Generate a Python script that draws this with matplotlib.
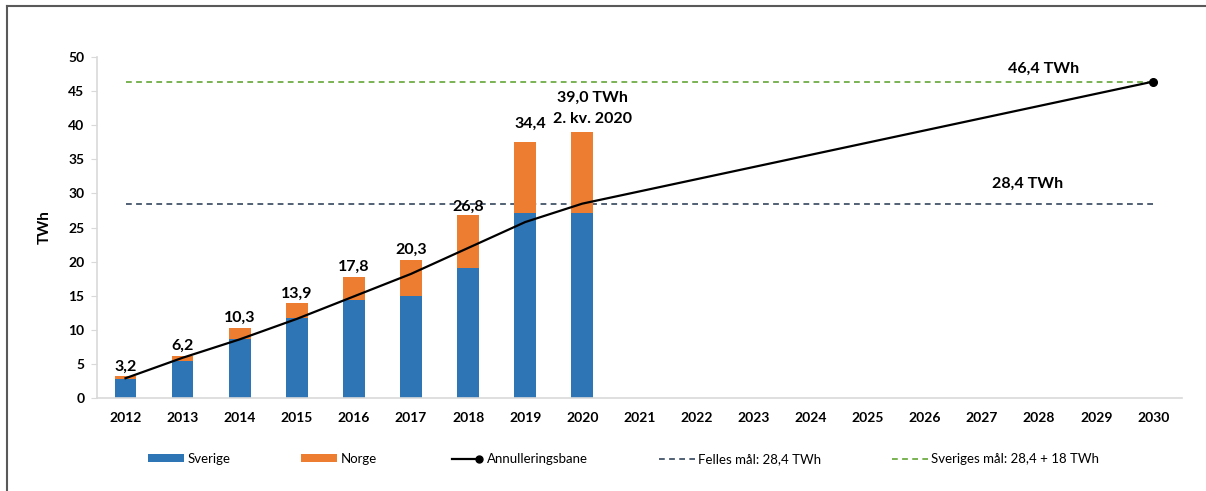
import matplotlib
matplotlib.use("Agg")
import matplotlib.pyplot as plt
import numpy as np
from matplotlib.lines import Line2D
from matplotlib.legend_handler import HandlerLine2D

# ---------------- data ----------------
years = [str(y) for y in range(2012, 2031)]
bar_years = years[:9]
sverige = [2.8, 5.4, 8.6, 11.7, 14.4, 15.0, 19.1, 27.2, 27.2]
norge = [0.4, 0.8, 1.7, 2.2, 3.4, 5.3, 7.7, 10.4, 11.8]
bar_labels = ['3,2', '6,2', '10,3', '13,9', '17,8', '20,3', '26,8', '34,4', '39,0 TWh\n2. kv. 2020']
bane_years = ['2012', '2013', '2014', '2015', '2016', '2017', '2018', '2019', '2020', '2030']
bane_values = [2.9, 5.9, 8.6, 11.6, 14.9, 18.2, 22.0, 25.8, 28.5, 46.4]
felles_maal = 28.4
sveriges_maal = 46.4
felles_label = '28,4 TWh'
sveriges_label = '46,4 TWh'

# ---------------- style ----------------
FONT = 'Lato'
plt.rcParams['font.family'] = [FONT, 'DejaVu Sans']
BLUE = '#2E75B6'
ORANGE = '#ED7D31'
NAVY = '#44546A'
GREEN = '#70AD47'
GRID = '#D9D9D9'

fig = plt.figure(figsize=(12.06, 4.91), dpi=100)
ax = fig.add_axes([0.0804, 0.1894, 0.8996, 0.6945])

xi = {y: i for i, y in enumerate(years)}
bx = np.array([xi[y] for y in bar_years])
sv = np.array(sverige)
no = np.array(norge)
tot = sv + no

bw = 0.38
ax.bar(bx, sv, width=bw, color=BLUE, label='Sverige', zorder=2)
ax.bar(bx, no, width=bw, bottom=sv, color=ORANGE, label='Norge', zorder=2)

# target lines
x0, x1 = xi['2012'], xi['2030']
ax.plot([x0, x1], [felles_maal, felles_maal], color=NAVY, lw=1.3,
        dashes=(3.2, 2.4), label='Felles mål: 28,4 TWh', zorder=1)
ax.plot([x0, x1], [sveriges_maal, sveriges_maal], color=GREEN, lw=1.3,
        dashes=(3.2, 2.4), label='Sveriges mål: 28,4 + 18 TWh', zorder=1)

# annulleringsbane
bxl = [xi[y] for y in bane_years]
ax.plot(bxl, bane_values, color='black', lw=1.6, zorder=4)
ax.plot(bxl[-1:], bane_values[-1:], 'o', color='black', ms=5.5, zorder=5)
bane_handle = Line2D([], [], color='black', lw=1.6, marker='o', ms=5)

# bar labels
offsets = [2, 2, 2, 2, 2, 2, 1, 8, 4.5]
for x, t, lab, off in zip(bx, tot, bar_labels, offsets):
    dx = 7 if '\n' in lab else (4 if lab == '34,4' else 0)
    ax.annotate(lab, (x, t), xytext=(dx, off), textcoords='offset points',
                ha='center', va='bottom', fontsize=11.5, fontweight='bold',
                linespacing=1.62, zorder=6)

ax.annotate(sveriges_label, (16.07, sveriges_maal), xytext=(0, 4),
            textcoords='offset points', ha='center', va='bottom',
            fontsize=11.5, fontweight='bold')
ax.annotate(felles_label, (15.8, felles_maal), xytext=(0, 10),
            textcoords='offset points', ha='center', va='bottom',
            fontsize=11.5, fontweight='bold')

# axes
ax.set_xlim(-0.5, len(years) - 0.5)
ax.set_ylim(0, 50)
ax.set_yticks(np.arange(0, 51, 5))
ax.set_xticks(range(len(years)))
ax.set_xticklabels(years)
for s in ['top', 'right']:
    ax.spines[s].set_visible(False)
for s in ['left', 'bottom']:
    ax.spines[s].set_color(GRID)
    ax.spines[s].set_linewidth(1.2)
ax.tick_params(axis='x', length=0, pad=10, labelsize=10)
ax.tick_params(axis='y', length=4, color=GRID, pad=5, labelsize=10)
for lab in ax.get_xticklabels() + ax.get_yticklabels():
    lab.set_fontweight('bold')
ax.set_ylabel('TWh', fontsize=11, fontweight='bold', labelpad=12)


class EndMarkerHandler(HandlerLine2D):
    def create_artists(self, *args, **kwargs):
        arts = super().create_artists(*args, **kwargs)
        for a in arts:
            if a.get_marker() not in (None, 'None', '', ' '):
                n = len(a.get_xdata())
                a.set_markevery([n - 1])
        return arts


h, l = ax.get_legend_handles_labels()
hd = dict(zip(l, h))
handles = [hd['Sverige'], hd['Norge'], bane_handle,
           hd['Felles mål: 28,4 TWh'], hd['Sveriges mål: 28,4 + 18 TWh']]
labels = ['Sverige', 'Norge', 'Annulleringsbane',
          'Felles mål: 28,4 TWh', 'Sveriges mål: 28,4 + 18 TWh']
fig.legend(handles, labels, loc='center left', bbox_to_anchor=(0.113, 0.065),
           ncol=5, frameon=False, fontsize=9.5, handlelength=2.7,
           handleheight=0.55, handletextpad=0.25, columnspacing=5.4,
           handler_map={bane_handle: EndMarkerHandler(numpoints=2)})

# outer frame (top and left edges visible)
fig.add_artist(Line2D([0.0058, 1.0], [0.987, 0.987], transform=fig.transFigure,
                      color='#595959', lw=1.5))
fig.add_artist(Line2D([0.0058, 0.0058], [0.0, 0.987], transform=fig.transFigure,
                      color='#595959', lw=1.5))

fig.savefig('out.png', dpi=100)
